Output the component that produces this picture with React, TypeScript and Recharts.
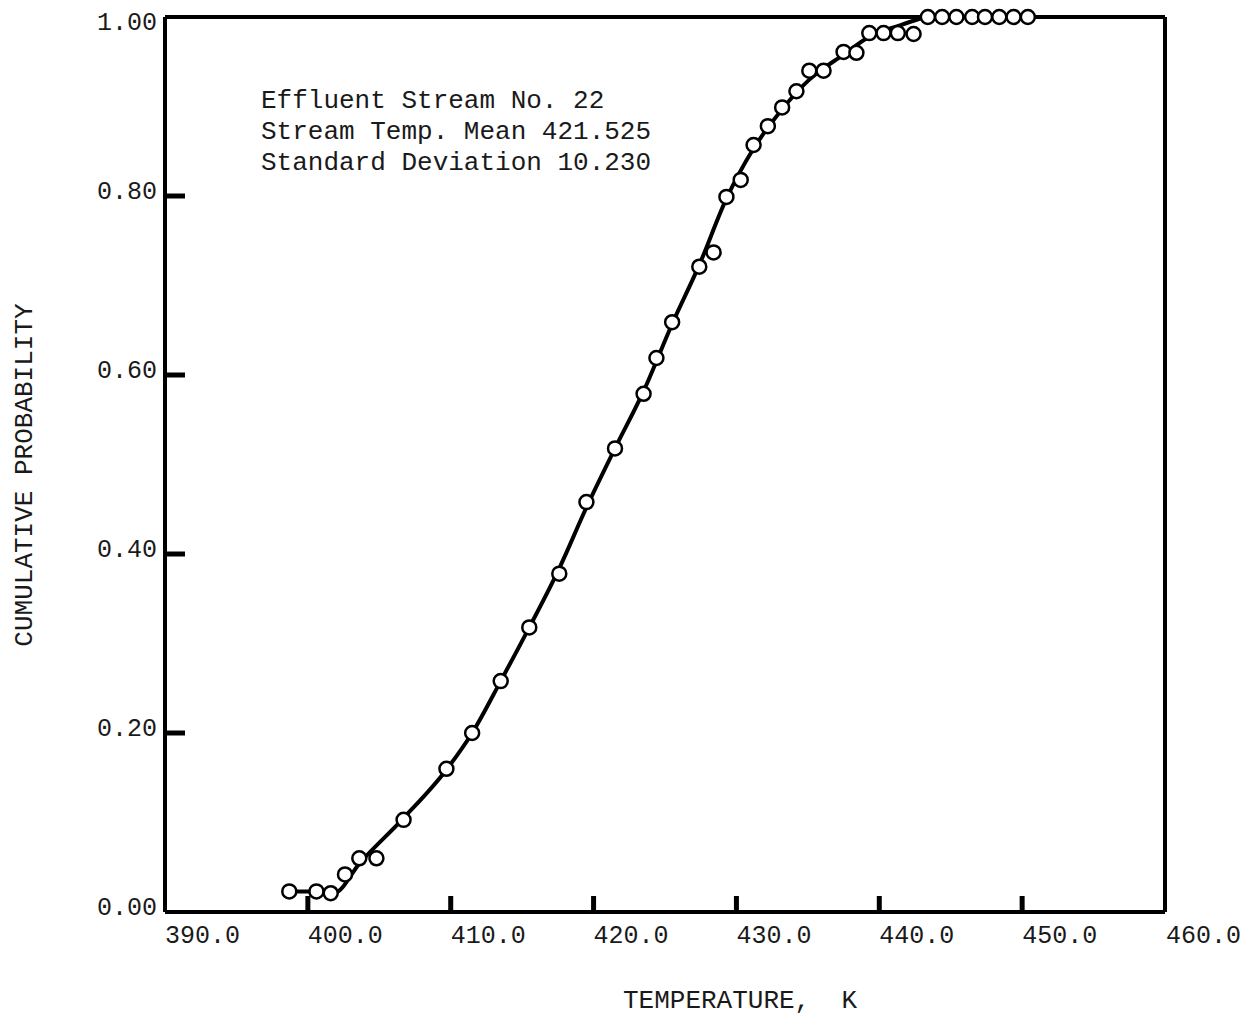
import React from 'react'
import { ComposedChart, Line, Scatter, XAxis, YAxis, ReferenceLine } from 'recharts'

// observed temperatures (K) and cumulative probabilities
const obsTemp = [
  398.7, 400.6, 401.6, 402.6, 403.6, 404.8, 406.7, 409.7, 411.5, 413.5,
  415.5, 417.6, 419.5, 421.5, 423.5, 424.4, 425.5, 427.4, 428.4, 429.3,
  430.3, 431.2, 432.2, 433.2, 434.2, 435.1, 436.1, 437.5, 438.4, 439.3,
  440.3, 441.3, 442.4, 443.4, 444.4, 445.4, 446.5, 447.4, 448.4, 449.4, 450.4,
]
const obsProb = [
  0.023, 0.023, 0.021, 0.042, 0.06, 0.06, 0.103, 0.16, 0.2, 0.258,
  0.318, 0.378, 0.458, 0.518, 0.579, 0.619, 0.659, 0.721, 0.737, 0.799,
  0.818, 0.857, 0.878, 0.899, 0.917, 0.94, 0.94, 0.961, 0.96, 0.982,
  0.982, 0.982, 0.981, 1.0, 1.0, 1.0, 1.0, 1.0, 1.0, 1.0, 1.0,
]

// fitted curve
const fitTemp = [
  398.7, 400.6, 401.8, 403.7, 406.7, 409.7, 411.5, 413.5, 415.5, 417.6,
  419.5, 421.5, 423.5, 425.5, 427.4, 429.3, 431.2, 433.2, 435.1, 437.5,
  439.3, 441.5, 443.2,
]
const fitProb = [
  0.023, 0.023, 0.021, 0.056, 0.105, 0.159, 0.2, 0.258, 0.318, 0.384,
  0.452, 0.518, 0.582, 0.657, 0.723, 0.797, 0.853, 0.897, 0.93, 0.958,
  0.978, 0.991, 1.0,
]

const xTicks = [390, 400, 410, 420, 430, 440, 450, 460]
const yTicks = [0, 0.2, 0.4, 0.6, 0.8, 1.0]

const notes = ['Effluent Stream No. 22', 'Stream Temp. Mean 421.525', 'Standard Deviation 10.230']

const points = obsTemp.map((t, i) => ({ x: t, y: obsProb[i] }))
const curve = fitTemp.map((t, i) => ({ x: t, y: fitProb[i] }))

const FONT = '"Liberation Mono", "DejaVu Sans Mono", monospace'
const INK = '#1a1a1a'

const XTick = (props: any) => {
  const { x, y, payload } = props
  const v = payload.value
  const inner = v > 390 && v < 460
  return (
    <g>
      {inner && <line x1={x} y1={y} x2={x} y2={y - 16} stroke="#000" strokeWidth={5} />}
      <text x={v === 460 ? x + 1 : x} y={y + 31} textAnchor="start" fontFamily={FONT} fontSize={25} fill={INK}>
        {v.toFixed(1)}
      </text>
    </g>
  )
}

const YTick = (props: any) => {
  const { x, y, payload } = props
  const v = payload.value
  const inner = v > 0 && v < 1
  return (
    <g>
      {inner && <line x1={x} y1={y} x2={x + 20} y2={y} stroke="#000" strokeWidth={5} />}
      <text x={x - 8} y={v === 1 ? y + 13 : y + 3} textAnchor="end" fontFamily={FONT} fontSize={25} fill={INK}>
        {v.toFixed(2)}
      </text>
    </g>
  )
}

const Dot = (props: any) => {
  const { cx, cy } = props
  return <circle cx={cx} cy={cy} r={7} fill="#fff" stroke="#000" strokeWidth={2.5} />
}

const App = () => {
  return (
    <div style={{ position: 'absolute', left: 0, top: 0, width: 1241, height: 1016, background: '#fff' }}>
      <ComposedChart width={1241} height={1016} margin={{ top: 17, right: 76, bottom: 0, left: 0 }}>
        <XAxis
          type="number"
          dataKey="x"
          domain={[390, 460]}
          ticks={xTicks}
          interval={0}
          height={104}
          tickSize={0}
          tickMargin={0}
          tick={<XTick />}
          axisLine={{ stroke: '#000', strokeWidth: 4 }}
          label={{
            content: () => (
              <text x={740} y={1008} textAnchor="middle" fontFamily={FONT} fontSize={26} fill={INK} style={{ whiteSpace: 'pre' }}>
                {'TEMPERATURE,  K'}
              </text>
            ),
          }}
        />
        <YAxis
          type="number"
          dataKey="y"
          domain={[0, 1]}
          ticks={yTicks}
          interval={0}
          width={165}
          tickSize={0}
          tickMargin={0}
          tick={<YTick />}
          axisLine={{ stroke: '#000', strokeWidth: 4 }}
          label={{
            content: () => (
              <text
                x={25}
                y={475}
                transform="rotate(-90 25 475)"
                textAnchor="middle"
                dominantBaseline="central"
                fontFamily={FONT}
                fontSize={26}
                fill={INK}
              >
                CUMULATIVE PROBABILITY
              </text>
            ),
          }}
        />
        <ReferenceLine y={1} stroke="#000" strokeWidth={4} />
        <ReferenceLine x={460} stroke="#000" strokeWidth={4} />
        <Line
          data={curve}
          dataKey="y"
          type="monotone"
          stroke="#000"
          strokeWidth={4}
          dot={false}
          activeDot={false}
          isAnimationActive={false}
        />
        <Scatter data={points} dataKey="y" shape={<Dot />} isAnimationActive={false} />
      </ComposedChart>
      <div
        style={{
          position: 'absolute',
          left: 261,
          top: 86,
          fontFamily: FONT,
          fontSize: 26,
          lineHeight: '31px',
          color: INK,
          whiteSpace: 'pre',
        }}
      >
        {notes.map((n) => (
          <div key={n}>{n}</div>
        ))}
      </div>
    </div>
  )
}

export default App
